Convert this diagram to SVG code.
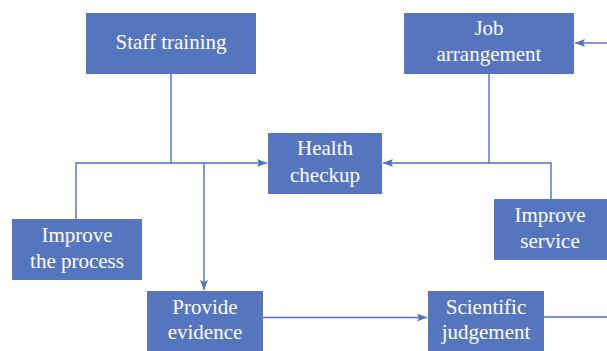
<svg xmlns="http://www.w3.org/2000/svg" width="607" height="351" viewBox="0 0 607 351">
<style>
.box{fill:#5575BE;}
.t{font-family:"Liberation Serif","DejaVu Serif",serif;font-size:21px;fill:#FFFFFF;text-anchor:middle;}
.c{fill:none;stroke:#4D70C3;stroke-width:1.4;}
</style>
<defs>
<marker id="ah" viewBox="0 0 10 8" refX="10" refY="4" markerWidth="10" markerHeight="8" markerUnits="userSpaceOnUse" orient="auto">
<path d="M0,0 L10,4 L0,8 L2,4 Z" fill="#4D70C3"/>
</marker>
</defs>
<g id="connectors">
<path class="c" d="M171,74 V163"/>
<path class="c" d="M76,219 V163 H267" marker-end="url(#ah)"/>
<path class="c" d="M204,163 V290" marker-end="url(#ah)"/>
<path class="c" d="M489,74 V163"/>
<path class="c" d="M551,199 V163 H383" marker-end="url(#ah)"/>
<path class="c" d="M607,43 H575" marker-end="url(#ah)"/>
<path class="c" d="M263,317.5 H427" marker-end="url(#ah)"/>
<path class="c" d="M544,317 H607"/>
</g>
<g id="staff-training">
<rect class="box" x="86" y="13" width="170" height="61"/>
<text class="t" x="171" y="49">Staff training</text>
</g>
<g id="job-arrangement">
<rect class="box" x="404" y="13" width="170" height="61"/>
<text class="t" x="489" y="35">Job</text>
<text class="t" x="489" y="61">arrangement</text>
</g>
<g id="health-checkup">
<rect class="box" x="268" y="133" width="114" height="61"/>
<text class="t" x="325" y="155">Health</text>
<text class="t" x="325" y="182">checkup</text>
</g>
<g id="improve-process">
<rect class="box" x="12" y="219" width="130" height="61"/>
<text class="t" x="77" y="242">Improve</text>
<text class="t" x="77" y="268">the process</text>
</g>
<g id="improve-service">
<rect class="box" x="494" y="199" width="113" height="61"/>
<text class="t" x="550" y="222">Improve</text>
<text class="t" x="550" y="248">service</text>
</g>
<g id="provide-evidence">
<rect class="box" x="147" y="291" width="116" height="60"/>
<text class="t" x="205" y="314">Provide</text>
<text class="t" x="205" y="339">evidence</text>
</g>
<g id="scientific-judgement">
<rect class="box" x="428" y="291" width="116" height="60"/>
<text class="t" x="486" y="314">Scientific</text>
<text class="t" x="486" y="339">judgement</text>
</g>
</svg>
